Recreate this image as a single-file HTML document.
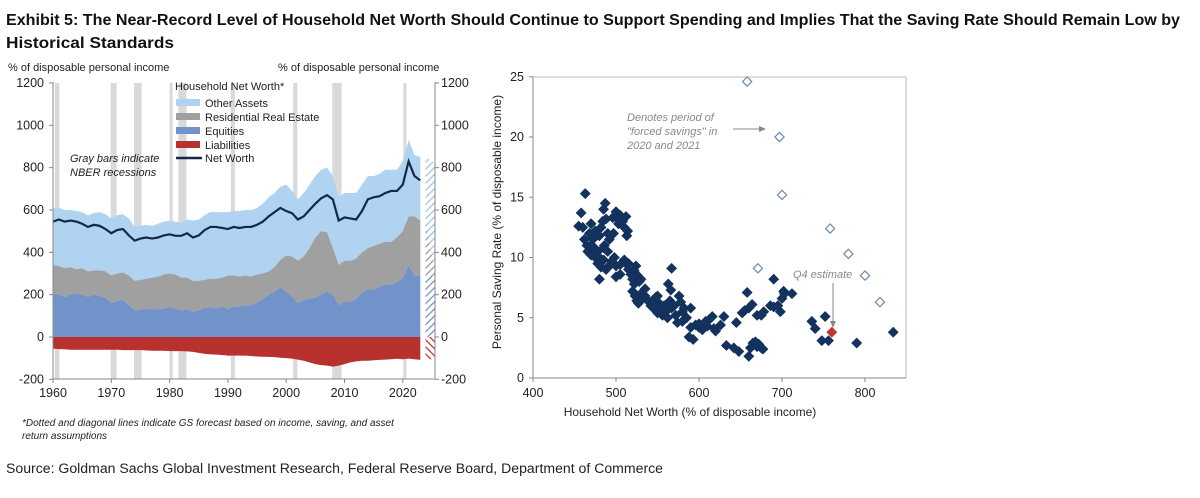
<!DOCTYPE html>
<html><head><meta charset="utf-8">
<style>
body{margin:0;background:#fff;width:1200px;height:493px;overflow:hidden;font-family:"Liberation Sans",Arial,sans-serif;}
svg text{font-family:"Liberation Sans",Arial,sans-serif;}
</style></head>
<body>
<svg id="c" width="1200" height="493" xmlns="http://www.w3.org/2000/svg">
<defs>
<pattern id="hb" width="5" height="5" patternUnits="userSpaceOnUse" patternTransform="rotate(45)"><rect width="5" height="5" fill="#fff"/><line x1="0" y1="0" x2="0" y2="5" stroke="#9cc3e6" stroke-width="2.5"/></pattern>
<pattern id="hg" width="5" height="5" patternUnits="userSpaceOnUse" patternTransform="rotate(45)"><rect width="5" height="5" fill="#fff"/><line x1="0" y1="0" x2="0" y2="5" stroke="#999" stroke-width="2.5"/></pattern>
<pattern id="hq" width="5" height="5" patternUnits="userSpaceOnUse" patternTransform="rotate(45)"><rect width="5" height="5" fill="#fff"/><line x1="0" y1="0" x2="0" y2="5" stroke="#6f8fc6" stroke-width="2.5"/></pattern>
<pattern id="hr" width="5" height="5" patternUnits="userSpaceOnUse" patternTransform="rotate(-45)"><rect width="5" height="5" fill="#fff"/><line x1="0" y1="0" x2="0" y2="5" stroke="#b8312f" stroke-width="2.5"/></pattern>
</defs>
<text x="6" y="25" font-size="15.5" font-weight="bold" fill="#111" textLength="1174" lengthAdjust="spacingAndGlyphs">Exhibit 5: The Near-Record Level of Household Net Worth Should Continue to Support Spending and Implies That the Saving Rate Should Remain Low by</text>
<text x="6" y="48" font-size="15.5" font-weight="bold" fill="#111" textLength="168" lengthAdjust="spacingAndGlyphs">Historical Standards</text>
<text x="6" y="473" font-size="13.5" fill="#222" textLength="657" lengthAdjust="spacingAndGlyphs">Source: Goldman Sachs Global Investment Research, Federal Reserve Board, Department of Commerce</text>
<g id="left"></g>
<g id="right"></g>
</svg>
<script>
const years=[];for(let y=1960;y<=2023;y++)years.push(y);
const netWorth=[545,555,545,550,545,535,520,530,525,510,490,505,510,480,455,465,470,465,470,480,485,478,478,490,470,480,505,520,520,515,510,520,515,520,520,530,545,570,590,610,595,585,555,570,600,630,655,670,650,550,565,560,555,595,650,660,665,680,690,690,720,830,760,740];
const equities=[205,200,190,200,205,200,190,200,195,185,160,170,175,150,125,130,135,130,130,135,140,135,125,130,120,125,140,140,135,145,130,145,145,150,150,165,180,200,215,235,215,190,160,175,180,185,200,215,200,150,170,165,180,210,225,225,235,250,245,260,280,340,290,290];
const realEstateTop=[340,335,325,330,320,325,310,315,315,310,290,300,305,290,265,270,275,280,285,295,300,295,280,280,265,265,270,275,275,280,290,290,285,290,285,295,300,310,330,365,385,380,360,380,420,470,500,495,420,340,360,360,370,400,420,430,440,450,450,470,500,570,570,550];
const otherTop=[610,610,600,600,595,590,575,585,590,580,560,575,580,560,520,525,530,525,535,545,550,545,540,555,550,555,575,590,590,590,590,595,595,600,600,610,630,660,680,710,720,690,650,680,720,760,790,800,760,660,680,680,680,720,760,760,770,790,790,790,830,930,860,850];
const liabilities=[-55,-57,-58,-60,-60,-60,-60,-60,-60,-60,-60,-60,-62,-62,-62,-62,-63,-65,-65,-65,-67,-67,-67,-68,-70,-75,-80,-82,-83,-85,-88,-88,-88,-88,-90,-92,-93,-94,-95,-98,-100,-102,-107,-112,-120,-128,-133,-135,-140,-135,-128,-120,-115,-112,-112,-110,-108,-107,-105,-103,-105,-102,-105,-108];
const recStart=[1960.3,1969.9,1973.9,1980.0,1981.5,1990.5,2001.2,2007.9,2020.1];
const recEnd=[1961.1,1970.9,1975.2,1980.5,1982.9,1991.2,2001.9,2009.5,2020.4];
const leftTicks=[1200,1000,800,600,400,200,0,-200];
const xTicks=[1960,1970,1980,1990,2000,2010,2020];

const scatterX=[463,458,455,460,462,465,468,470,472,474,466,470,475,478,480,482,484,485,487,488,490,486,492,490,478,482,480,485,488,495,500,498,497,500,502,505,508,512,510,513,500,505,510,512,515,518,520,522,524,526,528,520,523,525,527,530,532,535,540,542,545,548,550,552,555,556,558,560,562,565,567,570,572,574,576,578,580,582,585,563,566,567,588,593,590,596,600,604,608,610,613,616,618,620,626,630,633,642,645,648,652,655,658,660,662,665,668,670,672,675,677,660,664,670,675,678,686,690,690,695,698,700,702,703,712,736,740,748,752,756,790,834,515,505,495,530,535,545,550,580,590,600,606,470,475,480,485,490,496,503,514,522];
const scatterY=[15.3,13.7,12.6,12.5,11.5,11.0,12.0,12.8,11.5,10.8,10.5,10.2,10.0,10.5,11.8,12.5,13.0,14.0,14.5,13.2,12.0,11.0,11.5,10.5,9.5,9.2,8.2,9.8,9.0,9.5,9.3,10.0,12.0,13.8,13.2,13.5,13.0,13.4,12.5,11.8,8.4,8.6,9.8,9.5,9.0,8.6,8.2,7.8,9.3,8.5,8.0,7.2,6.8,6.4,6.2,7.0,6.6,6.8,6.3,6.0,5.8,6.7,5.4,6.2,5.8,5.2,6.0,5.5,5.0,6.4,5.8,6.0,5.2,4.6,6.8,6.3,5.5,5.8,5.0,7.8,7.3,9.1,3.4,3.2,4.2,4.4,4.5,4.0,4.7,4.3,4.9,5.1,4.1,3.9,4.4,5.1,2.7,2.5,4.6,2.2,5.4,5.6,7.1,1.8,2.5,2.9,3.0,2.6,2.8,2.5,2.4,5.8,6.1,5.2,5.2,5.5,6.0,8.2,5.9,6.0,5.5,6.6,7.2,7.0,7.0,4.7,4.1,3.1,5.1,3.1,2.9,3.8,9.5,9.4,9.7,8.2,7.4,6.5,6.8,4.7,5.8,4.2,4.5,11.0,12.2,10.0,10.8,9.2,13.3,12.8,12.2,8.9];
const forcedX=[658,697,700,671,758,780,800,818];
const forcedY=[24.6,20.0,15.2,9.1,12.4,10.3,8.5,6.3];
const estX=[760];const estY=[3.8];
const rxTicks=[400,500,600,700,800];
const ryTicks=[0,5,10,15,20,25];

const NS="http://www.w3.org/2000/svg";
function mk(parent,tag,attrs){const e=document.createElementNS(NS,tag);for(const k in attrs)e.setAttribute(k,attrs[k]);parent.appendChild(e);return e;}
function txt(parent,x,y,s,attrs){const e=mk(parent,'text',Object.assign({x:x,y:y,'font-size':12.5,fill:'#222'},attrs||{}));e.textContent=s;return e;}

// ---- LEFT CHART ----
const L=document.getElementById('left');
const lx=y=>53+(y-1960)*5.83;
const ly=v=>337-v*0.2117;
const recG=mk(L,'g',{});


for(let i=0;i<recStart.length;i++){
  const r=mk(recG,'rect',{x:lx(recStart[i]),y:ly(1200),width:Math.max(3,lx(recEnd[i])-lx(recStart[i])),height:ly(-200)-ly(1200),fill:'#d9d9d9'});
  
  
}
function area(top,bot,fill,name){
  let d='M'+years.map((y,i)=>lx(y)+','+ly(top[i])).join(' L');
  for(let i=years.length-1;i>=0;i--)d+=' L'+lx(years[i])+','+ly(bot[i]);
  const p=mk(L,'path',{d:d+'Z',fill:fill});
  
  
}
const zeros=years.map(()=>0);
area(otherTop,realEstateTop,'#afd3f0','other-assets-area');
area(realEstateTop,equities,'#a0a0a0','real-estate-area');
area(equities,zeros,'#7193c9','equities-area');
area(zeros,liabilities,'#b8312f','liabilities-area');
const fx0=lx(2023.9),fx1=lx(2025.6);
const fcB=mk(L,'polygon',{points:`${fx0},${ly(850)} ${fx1},${ly(820)} ${fx1},${ly(300)} ${fx0},${ly(550)}`,fill:'url(#hb)'});

const fcG=mk(L,'polygon',{points:`${fx0},${ly(550)} ${fx1},${ly(300)} ${fx1},${ly(290)} ${fx0},${ly(290)}`,fill:'url(#hg)'});

const fcQ=mk(L,'rect',{x:fx0,y:ly(290),width:fx1-fx0,height:ly(0)-ly(290),fill:'url(#hq)'});

const fcR=mk(L,'rect',{x:fx0,y:ly(0),width:fx1-fx0,height:ly(-105)-ly(0),fill:'url(#hr)'});

const nw=mk(L,'polyline',{points:years.map((y,i)=>lx(y)+','+ly(netWorth[i])).join(' '),fill:'none',stroke:'#13294b','stroke-width':2.2});


mk(L,'line',{x1:53,y1:82,x2:53,y2:379,stroke:'#888'});
mk(L,'line',{x1:435,y1:82,x2:435,y2:379,stroke:'#888'});
mk(L,'line',{x1:53,y1:379,x2:435,y2:379,stroke:'#888'});
leftTicks.forEach(t=>{
  mk(L,'line',{x1:49,y1:ly(t),x2:53,y2:ly(t),stroke:'#888'});
  mk(L,'line',{x1:435,y1:ly(t),x2:439,y2:ly(t),stroke:'#888'});
  const a=txt(L,44,ly(t)+4,String(t),{'text-anchor':'end'});
  
  const b=txt(L,441,ly(t)+4,String(t),{});
  
});
xTicks.forEach(t=>{
  mk(L,'line',{x1:lx(t),y1:379,x2:lx(t),y2:383,stroke:'#888'});
  const a=txt(L,lx(t),397,String(t),{'text-anchor':'middle'});
  
});
</script>
<script>
(function(){
const L=document.getElementById('left');
function t(x,y,s,name,extra){const e=document.createElementNS(NS,'text');e.setAttribute('x',x);e.setAttribute('y',y);e.setAttribute('font-size',extra&&extra.fs||11);e.setAttribute('fill','#222');if(extra&&extra.it)e.setAttribute('font-style','italic');if(extra&&extra.anchor)e.setAttribute('text-anchor',extra.anchor);e.textContent=s;


L.appendChild(e);}
t(8,71,'% of disposable personal income','left-axis-unit');
t(278,71,'% of disposable personal income','right-axis-unit');
t(175,90,'Household Net Worth*','legend-title');
const items=[['Other Assets','#afd3f0'],['Residential Real Estate','#a0a0a0'],['Equities','#7193c9'],['Liabilities','#b8312f']];
items.forEach((it,i)=>{
  const r=mk(L,'rect',{x:176,y:99+i*14,width:24,height:7,fill:it[1]});
  
  t(205,107+i*14,it[0],'legend-entry');
});
const ln=mk(L,'line',{x1:176,y1:158,x2:202,y2:158,stroke:'#13294b','stroke-width':2.5});

t(205,162,'Net Worth','legend-entry');
t(70,162,'Gray bars indicate','recession-note',{it:1});
t(70,176,'NBER recessions','recession-note',{it:1});
t(22,426,'*Dotted and diagonal lines indicate GS forecast based on income, saving, and asset','footnote',{it:1,fs:10});
t(22,439,'return assumptions','footnote',{it:1,fs:10});
})();
</script>
<script>
(function(){
const R=document.getElementById('right');
const rx=v=>533+(v-400)*0.83;
const ry=v=>378-v*12.05;
const fr=mk(R,'rect',{x:533,y:77,width:373,height:301,fill:'none',stroke:'#bbb'});

mk(R,'line',{x1:533,y1:77,x2:533,y2:378,stroke:'#888'});
mk(R,'line',{x1:533,y1:378,x2:906,y2:378,stroke:'#888'});
ryTicks.forEach(v=>{
  mk(R,'line',{x1:529,y1:ry(v),x2:533,y2:ry(v),stroke:'#888'});
  const e=txt(R,524,ry(v)+4,String(v),{'text-anchor':'end'});
  
});
rxTicks.forEach(v=>{
  mk(R,'line',{x1:rx(v),y1:378,x2:rx(v),y2:382,stroke:'#888'});
  const e=txt(R,rx(v),397,String(v),{'text-anchor':'middle'});
  
});
const xt=txt(R,690,416,'Household Net Worth (% of disposable income)',{'text-anchor':'middle','font-size':12});

const yt=txt(R,0,0,'Personal Saving Rate (% of disposable income)',{'text-anchor':'middle','font-size':12,transform:'translate(501,222) rotate(-90)'});

function dia(x,y,fill,stroke,name){
  const s=4.6;
  const p=mk(R,'polygon',{points:`${x},${y-s} ${x+s},${y} ${x},${y+s} ${x-s},${y}`,fill:fill,stroke:stroke,'stroke-width':1.2});
  
  
}
for(let i=0;i<scatterX.length;i++)dia(rx(scatterX[i]),ry(scatterY[i]),'#13325e','#13325e','scatter-point');
for(let i=0;i<forcedX.length;i++)dia(rx(forcedX[i]),ry(forcedY[i]),'#fff','#6a8ab0','forced-savings-point');
for(let i=0;i<estX.length;i++)dia(rx(estX[i]),ry(estY[i]),'#c0392b','#c0392b','q4-estimate-point');
['Denotes period of','"forced savings" in','2020 and 2021'].forEach((s,i)=>{
  const e=txt(R,627,121+i*14,s,{'font-size':11,'font-style':'italic',fill:'#888'});
  
});
const a1=mk(R,'line',{x1:733,y1:129,x2:760,y2:129,stroke:'#888'});

mk(R,'polygon',{points:'766,129 759,126 759,132',fill:'#888'});
const q=txt(R,793,278,'Q4 estimate',{'font-size':11,'font-style':'italic',fill:'#888'});

const a2=mk(R,'line',{x1:833,y1:283,x2:833,y2:322,stroke:'#888'});

mk(R,'polygon',{points:'833,328 830,321 836,321',fill:'#888'});
})();
</script>
</body></html>
